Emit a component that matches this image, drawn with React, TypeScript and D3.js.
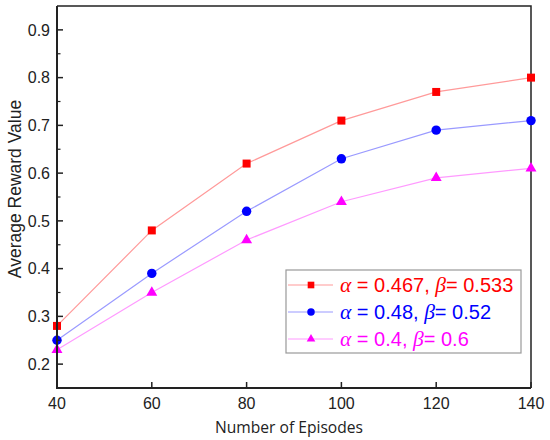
import { useEffect, useRef } from "react";
import * as d3 from "d3";

const episodes = [40, 60, 80, 100, 120, 140];
const redValues = [0.28, 0.48, 0.62, 0.71, 0.77, 0.8];
const blueValues = [0.25, 0.39, 0.52, 0.63, 0.69, 0.71];
const magentaValues = [0.23, 0.35, 0.46, 0.54, 0.59, 0.61];
const xTicks = [40, 60, 80, 100, 120, 140];
const yTicks = [0.2, 0.3, 0.4, 0.5, 0.6, 0.7, 0.8, 0.9];
const yMinorTicks = [0.25, 0.35, 0.45, 0.55, 0.65, 0.75, 0.85];

const series = [
  { alpha: "0.467", beta: "0.533", values: redValues, marker: "#ff0000", line: "#ff9a9a", shape: d3.symbolSquare, size: 64, legendSize: 44 },
  { alpha: "0.48", beta: "0.52", values: blueValues, marker: "#0000ff", line: "#9a9aff", shape: d3.symbolCircle, size: 70, legendSize: 44 },
  { alpha: "0.4", beta: "0.6", values: magentaValues, marker: "#ff00ff", line: "#ff9aff", shape: d3.symbolTriangle, size: 52, legendSize: 32 },
];

const W = 550;
const H = 440;
const margin = { top: 6, right: 19, bottom: 52, left: 57 };
const sans = "'Liberation Sans', Arial, sans-serif";
const serif = "'Liberation Serif', 'DejaVu Serif', serif";
const titleFont = "'Open Sans', 'Noto Sans', sans-serif";

export default function App() {
  const svgRef = useRef<SVGSVGElement>(null);

  useEffect(() => {
    if (!svgRef.current) return;
    const svg = d3.select(svgRef.current);
    svg.selectAll("*").remove();

    const innerW = W - margin.left - margin.right;
    const innerH = H - margin.top - margin.bottom;

    const x = d3.scaleLinear().domain([40, 140]).range([0, innerW]);
    const y = d3.scaleLinear().domain([0.15, 0.95]).range([innerH, 0]);

    svg.append("rect").attr("width", W).attr("height", H).attr("fill", "#fff");

    const g = svg.append("g").attr("transform", `translate(${margin.left},${margin.top})`);

    // frame: top & right
    g.append("path")
      .attr("d", `M0,0H${innerW}V${innerH}`)
      .attr("fill", "none")
      .attr("stroke", "#222")
      .attr("stroke-width", 1.5);

    // lines + markers
    series.forEach((s) => {
      const pts = episodes.map((e, i) => [e, s.values[i]] as [number, number]);
      const line = d3.line<[number, number]>()
        .x((d) => x(d[0]))
        .y((d) => y(d[1]));
      g.append("path")
        .datum(pts)
        .attr("d", line)
        .attr("fill", "none")
        .attr("stroke", s.line)
        .attr("stroke-width", 1.2);
      const sym = d3.symbol().type(s.shape).size(s.size);
      g.selectAll(null)
        .data(pts)
        .join("path")
        .attr("transform", (d) => `translate(${x(d[0])},${y(d[1])})`)
        .attr("d", sym)
        .attr("fill", s.marker);
    });

    // axes
    const xAxis = g.append("g").attr("transform", `translate(0,${innerH})`);
    xAxis.append("line").attr("x1", -1).attr("x2", innerW).attr("stroke", "#222").attr("stroke-width", 2);
    xAxis.selectAll("line.tick")
      .data(xTicks)
      .join("line")
      .attr("class", "tick")
      .attr("x1", (d) => x(d))
      .attr("x2", (d) => x(d))
      .attr("y1", 0)
      .attr("y2", -6)
      .attr("stroke", "#222")
      .attr("stroke-width", 1.5);
    xAxis.selectAll("text")
      .data(xTicks)
      .join("text")
      .attr("x", (d) => x(d))
      .attr("y", 21)
      .attr("text-anchor", "middle")
      .attr("font-family", sans)
      .attr("font-size", 16)
      .attr("fill", "#222")
      .text((d) => d);

    const yAxis = g.append("g");
    yAxis.append("line").attr("y1", 0).attr("y2", innerH + 1).attr("stroke", "#222").attr("stroke-width", 2);
    yAxis.selectAll("line.tick")
      .data(yTicks)
      .join("line")
      .attr("class", "tick")
      .attr("x1", 0)
      .attr("x2", 6)
      .attr("y1", (d) => y(d))
      .attr("y2", (d) => y(d))
      .attr("stroke", "#222")
      .attr("stroke-width", 1.5);
    yAxis.selectAll("line.minor")
      .data(yMinorTicks)
      .join("line")
      .attr("class", "minor")
      .attr("x1", 0)
      .attr("x2", 3.5)
      .attr("y1", (d) => y(d))
      .attr("y2", (d) => y(d))
      .attr("stroke", "#222")
      .attr("stroke-width", 1.2);
    yAxis.selectAll("text")
      .data(yTicks)
      .join("text")
      .attr("x", -7)
      .attr("y", (d) => y(d))
      .attr("dy", "0.36em")
      .attr("text-anchor", "end")
      .attr("font-family", sans)
      .attr("font-size", 16)
      .attr("fill", "#222")
      .text((d) => d.toFixed(1));

    // axis titles
    svg.append("text")
      .attr("x", 289)
      .attr("y", 433)
      .attr("text-anchor", "middle")
      .attr("font-family", titleFont)
      .attr("font-size", 16.5)
      .attr("textLength", 148)
      .attr("lengthAdjust", "spacingAndGlyphs")
      .attr("fill", "#222")
      .text("Number of Episodes");
    svg.append("text")
      .attr("transform", `translate(21,189) rotate(-90)`)
      .attr("text-anchor", "middle")
      .attr("font-family", sans)
      .attr("font-size", 17.5)
      .attr("fill", "#222")
      .text("Average Reward Value");

    // legend
    const legend = svg.append("g").attr("transform", "translate(286,270)");
    legend.append("rect")
      .attr("width", 235)
      .attr("height", 83)
      .attr("fill", "#fff")
      .attr("stroke", "#999")
      .attr("stroke-width", 1.2);
    series.forEach((s, i) => {
      const row = legend.append("g").attr("transform", `translate(0,${15 + i * 27})`);
      row.append("line").attr("x1", 2).attr("x2", 47).attr("stroke", s.line).attr("stroke-width", 1.2);
      row.append("path")
        .attr("transform", "translate(25,0)")
        .attr("d", d3.symbol().type(s.shape).size(s.legendSize))
        .attr("fill", s.marker);
      const t = row.append("text")
        .attr("x", 54)
        .attr("y", 6.5)
        .attr("font-family", sans)
        .attr("font-size", 20)
        .attr("fill", s.marker);
      t.append("tspan").attr("font-family", serif).attr("font-style", "italic").attr("font-size", 21.5).text("α");
      t.append("tspan").text(` = ${s.alpha}, `);
      t.append("tspan").attr("font-family", serif).attr("font-style", "italic").attr("font-size", 21.5).text("β");
      t.append("tspan").text(`= ${s.beta}`);
    });
  }, []);

  return (
    <svg
      ref={svgRef}
      width={W}
      height={H}
      style={{ position: "absolute", left: 0, top: 0 }}
    />
  );
}
